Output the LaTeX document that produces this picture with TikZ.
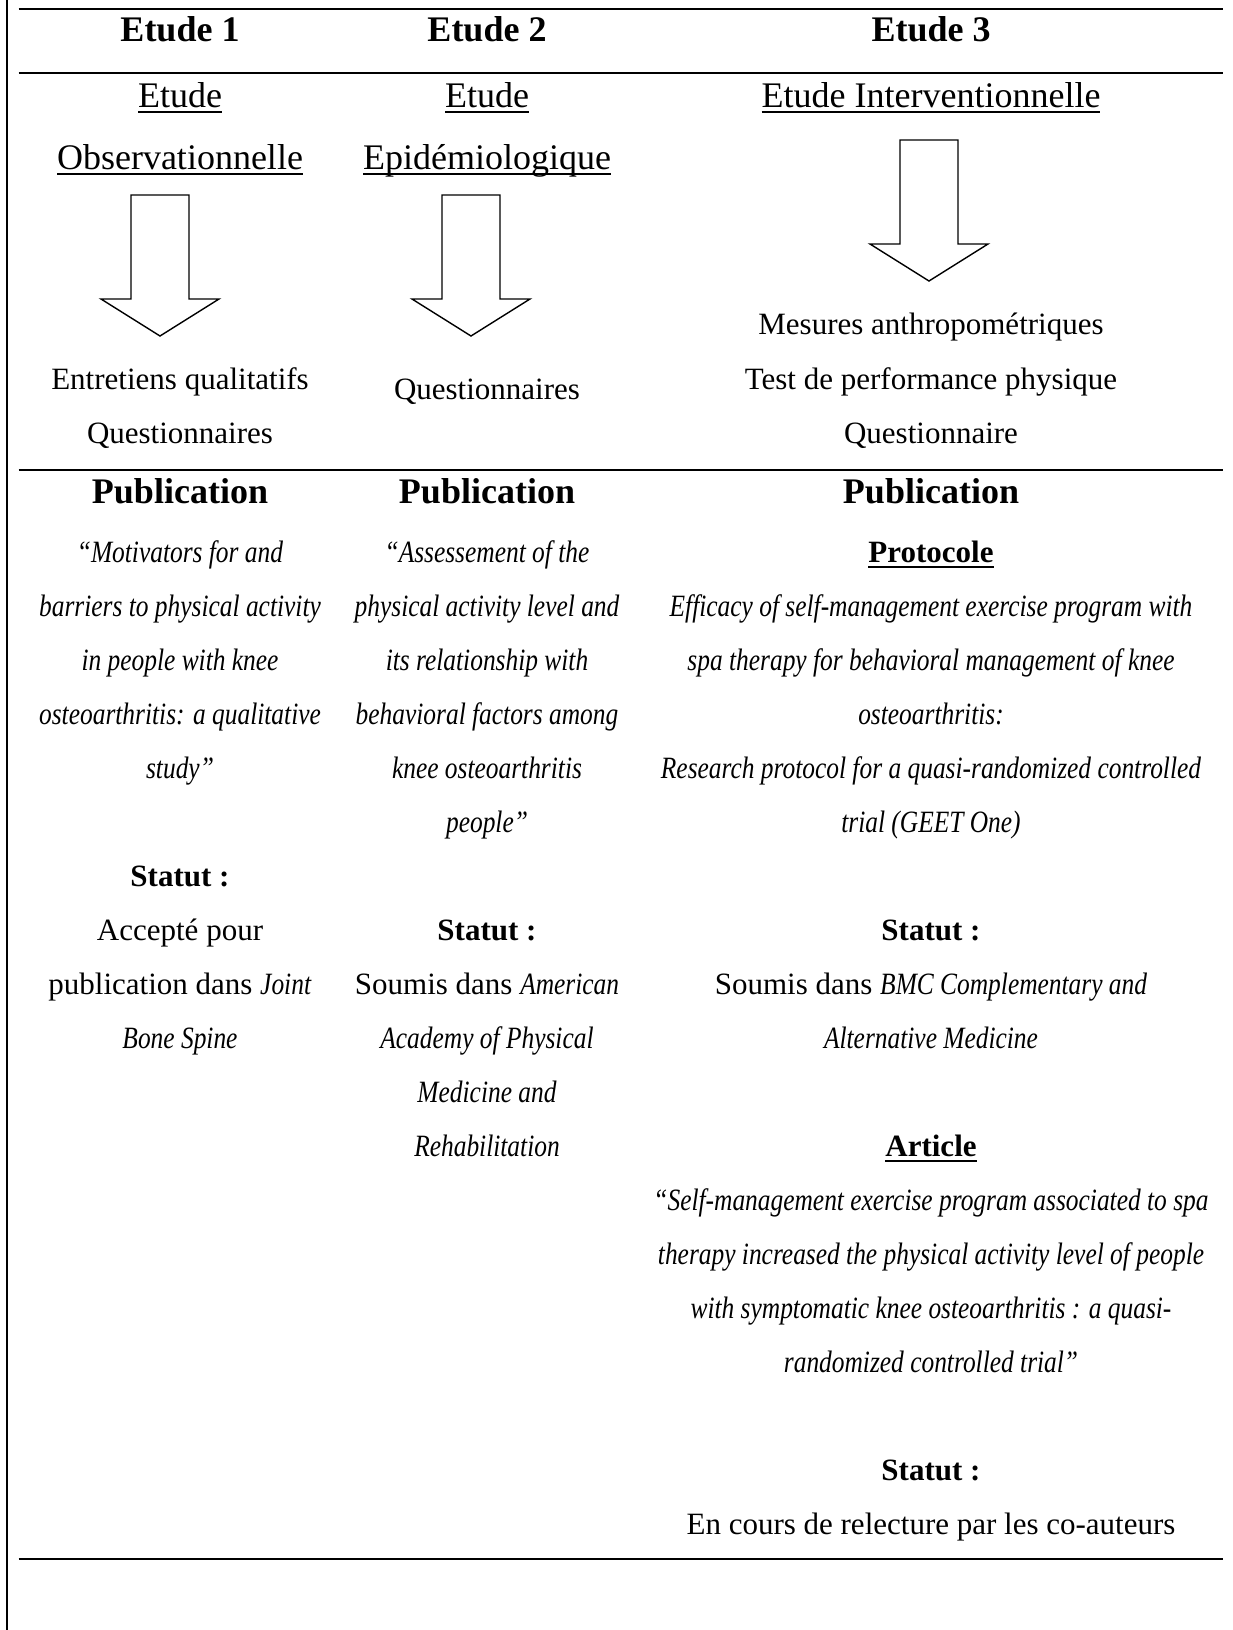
\documentclass[tikz,border=0pt]{standalone}
\usepackage{fontspec}
\setmainfont{Liberation Serif}[ItalicFeatures={FakeStretch=0.82}]
\newcommand\myul[1]{\setbox0=\hbox{#1}\rlap{\rule[-6pt]{\wd0}{1.8pt}}\box0}
\begin{document}
\begin{tikzpicture}[x=1pt,y=-1pt,
  rule/.style={line width=2pt},
  arrowline/.style={line width=1.4pt, line join=miter},
  txt/.style={anchor=base, inner sep=0pt, font=\fontsize{31}{37}\selectfont},
  big/.style={anchor=base, inner sep=0pt, font=\fontsize{36}{43}\selectfont},
  bigb/.style={anchor=base, inner sep=0pt, font=\fontsize{36}{43}\selectfont\bfseries},
  sb/.style={anchor=base, inner sep=0pt, font=\fontsize{31}{37}\selectfont\bfseries},
  it/.style={anchor=base, inner sep=0pt, font=\fontsize{31}{37}\selectfont\itshape},
  downarr/.pic={\draw[arrowline] (-29,0) -- (29,0) -- (29,104) -- (59,104) -- (0,141) -- (-59,104) -- (-29,104) -- cycle;}
]
\useasboundingbox (0,0) rectangle (1233,1630);
% frame lines
\coordinate (vt) at (7.3,0); \coordinate (vb) at (7.3,1630);
\draw[rule] (vt) -- (vb);
\coordinate (l1a) at (18.7,9.3); \coordinate (l1b) at (1223,9.3);
\coordinate (l2a) at (18.7,72.7); \coordinate (l2b) at (1223,72.7);
\coordinate (l3a) at (18.7,470); \coordinate (l3b) at (1223,470);
\coordinate (l4a) at (18.7,1559); \coordinate (l4b) at (1223,1559);
\draw[rule] (l1a) -- (l1b);
\draw[rule] (l2a) -- (l2b);
\draw[rule] (l3a) -- (l3b);
\draw[rule] (l4a) -- (l4b);
% headers
\node[bigb] (h1) at (180,41) {Etude 1};
\node[bigb] (h2) at (487,41) {Etude 2};
\node[bigb] (h3) at (931,41) {Etude 3};
% study types
\node[big] (t1a) at (180,107) {\myul{Etude}};
\node[big] (t1b) at (180,169) {\myul{Observationnelle}};
\node[big] (t2a) at (487,107) {\myul{Etude}};
\node[big] (t2b) at (487,169) {\myul{Epidémiologique}};
\node[big] (t3a) at (931,107) {\myul{Etude Interventionnelle}};
% arrows
\pic at (160,195) {downarr};
\pic at (471,195) {downarr};
\pic at (929,140) {downarr};
% methods
\node[txt] (m1a) at (180,389) {Entretiens qualitatifs};
\node[txt] (m1b) at (180,443) {Questionnaires};
\node[txt] (m2a) at (487,399) {Questionnaires};
\node[txt] (m3a) at (931,334) {Mesures anthropométriques};
\node[txt] (m3b) at (931,389) {Test de performance physique};
\node[txt] (m3c) at (931,443) {Questionnaire};
% publication headers
\node[bigb] (p1) at (180,503) {Publication};
\node[bigb] (p2) at (487,503) {Publication};
\node[bigb] (p3) at (931,503) {Publication};
% column 1
\node[it] (c1a) at (180,562) {“Motivators for and};
\node[it] (c1b) at (180,616) {barriers to physical activity};
\node[it] (c1c) at (180,670) {in people with knee};
\node[it] (c1d) at (180,724) {osteoarthritis: a qualitative};
\node[it] (c1e) at (180,778) {study”};
\node[sb] (s1) at (180,886) {Statut :};
\node[txt] (c1f) at (180,940) {Accepté pour};
\node[txt] (c1g) at (180,994) {publication dans \textit{Joint}};
\node[it] (c1h) at (180,1048) {Bone Spine};
% column 2
\node[it] (c2a) at (487,562) {“Assessement of the};
\node[it] (c2b) at (487,616) {physical activity level and};
\node[it] (c2c) at (487,670) {its relationship with};
\node[it] (c2d) at (487,724) {behavioral factors among};
\node[it] (c2e) at (487,778) {knee osteoarthritis};
\node[it] (c2f) at (487,832) {people”};
\node[sb] (s2) at (487,940) {Statut :};
\node[txt] (c2g) at (487,994) {Soumis dans \textit{American}};
\node[it] (c2h) at (487,1048) {Academy of Physical};
\node[it] (c2i) at (487,1102) {Medicine and};
\node[it] (c2j) at (487,1156) {Rehabilitation};
% column 3
\node[sb] (pr) at (931,562) {\myul{Protocole}};
\node[it] (c3a) at (931,616) {Efficacy of self-management exercise program with};
\node[it] (c3b) at (931,670) {spa therapy for behavioral management of knee};
\node[it] (c3c) at (931,724) {osteoarthritis:};
\node[it] (c3d) at (931,778) {Research protocol for a quasi-randomized controlled};
\node[it] (c3e) at (931,832) {trial (GEET One)};
\node[sb] (s3) at (931,940) {Statut :};
\node[txt] (c3f) at (931,994) {Soumis dans \textit{BMC Complementary and}};
\node[it] (c3g) at (931,1048) {Alternative Medicine};
\node[sb] (ar) at (931,1156) {\myul{Article}};
\node[it] (c3h) at (931,1210) {“Self-management exercise program associated to spa};
\node[it] (c3i) at (931,1264) {therapy increased the physical activity level of people};
\node[it] (c3j) at (931,1318) {with symptomatic knee osteoarthritis : a quasi-};
\node[it] (c3k) at (931,1372) {randomized controlled trial”};
\node[sb] (s4) at (931,1480) {Statut :};
\node[txt] (c3l) at (931,1534) {En cours de relecture par les co-auteurs};
\end{tikzpicture}
\end{document}
